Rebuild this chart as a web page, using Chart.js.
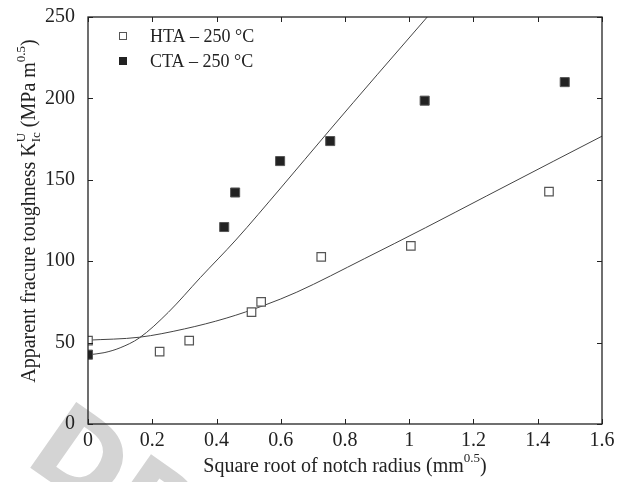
<!DOCTYPE html>
<html lang="en">
<head>
  <meta charset="UTF-8">
  <title>Apparent fracture toughness vs notch radius</title>
  <script src="https://cdn.jsdelivr.net/npm/chart.js"></script>
  <style>
    body { margin: 0; background: #fff; }
    #wrap { width: 622px; height: 482px; }
  </style>
</head>
<body>
  <div id="wrap"><canvas id="kicChart"></canvas></div>

  <script>
    // measured points, HTA - 250 °C
    const htaX = [0, 0.223, 0.315, 0.509, 0.539, 0.726, 1.005, 1.435];
    const htaY = [51.2, 44.5, 51.2, 68.7, 75, 102.7, 109.4, 142.7];
    // measured points, CTA - 250 °C
    const ctaX = [0, 0.424, 0.458, 0.598, 0.754, 1.048, 1.484];
    const ctaY = [42.6, 121, 142.2, 161.5, 173.8, 198.6, 210];

    // fitted curves
    const htaFitX = [0, 0.16, 0.3, 0.43, 0.55, 0.65, 0.86, 1.05, 1.24, 1.45, 1.6];
    const htaFitY = [51.5, 53.3, 58.4, 65, 73, 81, 101.5, 120.5, 140, 161.5, 176.8];
    const ctaFitX = [0, 0.05, 0.1, 0.16, 0.25, 0.35, 0.46, 0.6, 0.75, 0.9, 1.056];
    const ctaFitY = [42.5, 43.8, 46.8, 52.9, 68.6, 90, 113, 145, 180, 214.5, 250];

    const seriesLabels = ['HTA \u2013 250 \u00b0C', 'CTA \u2013 250 \u00b0C'];

    const pts = (xs, ys) => xs.map((x, i) => ({ x: x, y: ys[i] }));
    const serif = '"Liberation Serif", "DejaVu Serif", serif';

    // faint "DRAFT" stamp behind the plot
    const watermark = {
      id: 'watermark',
      beforeDraw(chart) {
        const ctx = chart.ctx;
        ctx.save();
        ctx.translate(22, 462);
        ctx.rotate(0.61);
        ctx.fillStyle = '#d4d4d4';
        ctx.font = 'bold 110px "DejaVu Sans"';
        ctx.fillText('DRAFT', 0, 0);
        ctx.restore();
      }
    };

    // box, inward ticks, legend and axis titles
    const decorations = {
      id: 'decorations',
      afterDraw(chart) {
        const ctx = chart.ctx;
        const a = chart.chartArea;
        const xs = chart.scales.x, ys = chart.scales.y;
        ctx.save();
        ctx.strokeStyle = '#222';
        ctx.lineWidth = 1.3;
        ctx.strokeRect(a.left, a.top, a.right - a.left, a.bottom - a.top);

        ctx.lineWidth = 1;
        ctx.beginPath();
        xs.ticks.forEach(t => {
          const px = Math.round(xs.getPixelForValue(t.value)) + 0.5;
          ctx.moveTo(px, a.bottom); ctx.lineTo(px, a.bottom - 5);
          ctx.moveTo(px, a.top); ctx.lineTo(px, a.top + 5);
        });
        ys.ticks.forEach(t => {
          const py = Math.round(ys.getPixelForValue(t.value)) + 0.5;
          ctx.moveTo(a.left, py); ctx.lineTo(a.left + 5, py);
          ctx.moveTo(a.right, py); ctx.lineTo(a.right - 5, py);
        });
        ctx.stroke();

        const big = '20px ' + serif;
        const small = '13px ' + serif;

        // legend
        ctx.font = '18px ' + serif;
        ctx.textBaseline = 'middle';
        ctx.textAlign = 'left';
        [0, 1].forEach(i => {
          const ly = 36 + i * 25;
          if (i === 0) {
            ctx.fillStyle = '#fff';
            ctx.strokeStyle = '#555';
            ctx.fillRect(119, ly - 3.5, 7, 7);
            ctx.strokeRect(119.5, ly - 3.5, 7, 7);
          } else {
            ctx.fillStyle = '#222';
            ctx.fillRect(119, ly - 4, 8, 8);
          }
          ctx.fillStyle = '#222';
          ctx.fillText(seriesLabels[i], 150, ly + 1);
        });

        // x title
        ctx.textBaseline = 'alphabetic';
        const xa = 'Square root of notch radius (mm', xb = '0.5', xc = ')';
        ctx.font = big;
        const wa = ctx.measureText(xa).width, wc = ctx.measureText(xc).width;
        ctx.font = small;
        const wb = ctx.measureText(xb).width;
        let x0 = (a.left + a.right) / 2 - (wa + wb + wc) / 2;
        const yb = 472;
        ctx.font = big; ctx.fillText(xa, x0, yb);
        ctx.font = small; ctx.fillText(xb, x0 + wa, yb - 10);
        ctx.font = big; ctx.fillText(xc, x0 + wa + wb, yb);

        // y title, rotated
        const p1 = 'Apparent fracure toughness K', sub = 'Ic', sup = 'U';
        const p2 = ' (MPa m', sup2 = '0.5', p3 = ')';
        ctx.font = big;
        const w1 = ctx.measureText(p1).width, w2 = ctx.measureText(p2).width, w3 = ctx.measureText(p3).width;
        ctx.font = small;
        const wsub = Math.max(ctx.measureText(sub).width, ctx.measureText(sup).width);
        const wsup2 = ctx.measureText(sup2).width;
        const total = w1 + wsub + w2 + wsup2 + w3;
        ctx.translate(35, 211);
        ctx.rotate(-Math.PI / 2);
        let cx = -total / 2;
        ctx.font = big; ctx.fillText(p1, cx, 0); cx += w1;
        ctx.font = small; ctx.fillText(sub, cx, 5); ctx.fillText(sup, cx, -10); cx += wsub;
        ctx.font = big; ctx.fillText(p2, cx, 0); cx += w2;
        ctx.font = small; ctx.fillText(sup2, cx, -10); cx += wsup2;
        ctx.font = big; ctx.fillText(p3, cx, 0);
        ctx.restore();
      }
    };

    const ctx = document.getElementById('kicChart').getContext('2d');
    new Chart(ctx, {
      type: 'scatter',
      data: {
        datasets: [
          {
            label: seriesLabels[0],
            data: pts(htaX, htaY),
            pointStyle: 'rect',
            pointRadius: 6,
            pointBackgroundColor: '#fff',
            pointBorderColor: '#555',
            pointBorderWidth: 1.2
          },
          {
            label: seriesLabels[1],
            data: pts(ctaX, ctaY),
            pointStyle: 'rect',
            pointRadius: 6.4,
            pointBackgroundColor: '#222',
            pointBorderColor: '#555',
            pointBorderWidth: 1
          },
          {
            label: 'HTA fit',
            data: pts(htaFitX, htaFitY),
            showLine: true,
            pointRadius: 0,
            borderColor: '#444',
            borderWidth: 1,
            cubicInterpolationMode: 'monotone'
          },
          {
            label: 'CTA fit',
            data: pts(ctaFitX, ctaFitY),
            showLine: true,
            pointRadius: 0,
            borderColor: '#444',
            borderWidth: 1,
            cubicInterpolationMode: 'monotone'
          }
        ]
      },
      options: {
        responsive: true,
        maintainAspectRatio: false,
        animation: false,
        layout: { padding: { left: 0, right: 20, top: 15, bottom: 0 } },
        scales: {
          x: {
            min: 0,
            max: 1.6,
            grid: { display: false },
            border: { display: false },
            ticks: {
              stepSize: 0.2,
              padding: -3,
              color: '#222',
              font: { family: serif, size: 20 },
              callback: v => String(Math.round(v * 10) / 10)
            },
            afterFit(scale) { scale.height = 58; }
          },
          y: {
            min: 0,
            max: 250,
            grid: { display: false },
            border: { display: false },
            ticks: {
              stepSize: 50,
              padding: 5,
              color: '#222',
              font: { family: serif, size: 20 }
            },
            afterFit(scale) { scale.width = 88; }
          }
        },
        plugins: {
          legend: { display: false },
          tooltip: { enabled: false }
        }
      },
      plugins: [watermark, decorations]
    });
  </script>
</body>
</html>
